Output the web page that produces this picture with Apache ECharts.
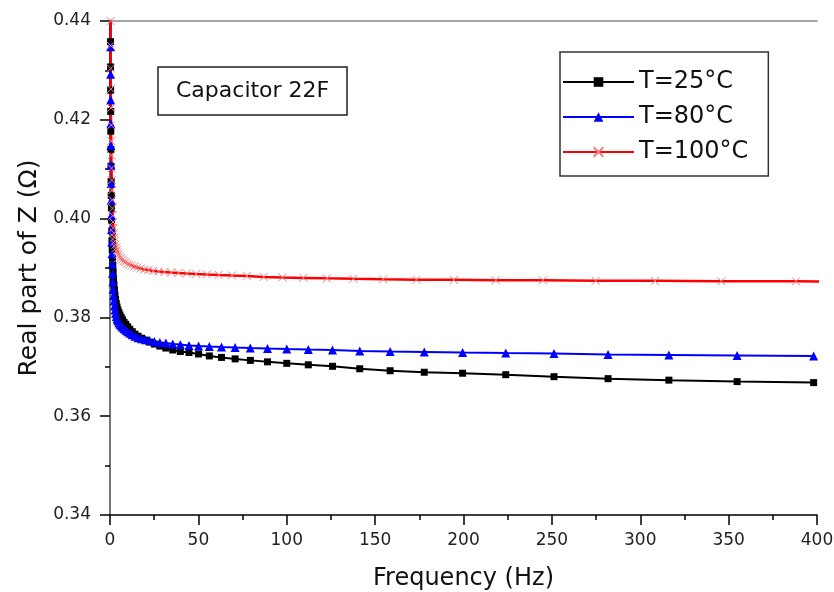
<!DOCTYPE html>
<html>
<head>
<meta charset="utf-8">
<script src="https://cdn.jsdelivr.net/npm/echarts@6/dist/echarts.min.js"></script>
<style>html,body{margin:0;padding:0;background:#fff}#c{width:834px;height:592px}</style>
</head>
<body>
<div id="c"></div>
<script>
// Frequencies (Hz) for T=25°C and T=80°C (shared grid)
const freqBK = [398.1,354.8,316.2,281.8,251.2,223.9,199.5,177.8,158.5,141.3,125.9,112.2,100,89.1,79.4,70.8,63.1,56.2,50.1,44.7,39.8,35.5,31.6,28.2,25.1,22.4,20.0,17.8,15.8,14.1,12.6,11.2,10.0,8.91,7.94,7.08,6.31,5.62,5.01,4.47,3.98,3.55,3.16,2.82,2.51,2.24,2.00,1.78,1.58,1.41,1.26,1.12,1.00,0.891,0.794,0.708,0.631,0.562,0.501,0.447,0.398,0.355,0.316,0.282,0.251,0.224];
// Frequencies (Hz) for T=100°C
const freqR = [435.5,388.1,345.9,308.3,274.8,244.9,218.3,194.5,173.4,154.5,137.7,122.7,109.4,97.5,86.9,77.4,69.0,61.5,54.8,48.8,43.5,38.8,34.6,30.8,27.5,24.5,21.8,19.4,17.3,15.4,13.8,12.3,10.9,9.75,8.69,7.74,6.90,6.15,5.48,4.88,4.35,3.88,3.46,3.08,2.75,2.45,2.18,1.94,1.73,1.55,1.38,1.23,1.09,0.975,0.869,0.774,0.690,0.615,0.548,0.488,0.435,0.388,0.346,0.308,0.275];
const z25 = [0.3668,0.3670,0.3673,0.3676,0.3680,0.3684,0.3687,0.3689,0.3692,0.3696,0.3701,0.3704,0.3707,0.3710,0.3713,0.3716,0.3719,0.3722,0.3726,0.3729,0.3731,0.3734,0.3738,0.3742,0.3746,0.3750,0.3754,0.3758,0.3762,0.3766,0.3771,0.3776,0.3781,0.3786,0.3790,0.3795,0.3800,0.3805,0.3810,0.3815,0.3821,0.3828,0.3836,0.3845,0.3855,0.3866,0.3878,0.3891,0.3905,0.3920,0.3937,0.3955,0.3975,0.3997,0.4021,0.4047,0.4075,0.4106,0.4140,0.4177,0.4217,0.4260,0.4307,0.4358,0.4413,0.4472];
const z80 = [0.3722,0.3723,0.3724,0.3725,0.3727,0.3728,0.3729,0.3730,0.3731,0.3732,0.3734,0.3735,0.3736,0.3737,0.3738,0.3739,0.3740,0.3741,0.3742,0.3743,0.3745,0.3746,0.3748,0.3749,0.3751,0.3753,0.3755,0.3757,0.3759,0.3762,0.3765,0.3768,0.3771,0.3774,0.3777,0.3780,0.3783,0.3786,0.3789,0.3793,0.3797,0.3802,0.3808,0.3815,0.3823,0.3833,0.3844,0.3857,0.3872,0.3889,0.3908,0.3929,0.3952,0.3978,0.4006,0.4037,0.4071,0.4108,0.4148,0.4192,0.4240,0.4292,0.4348,0.4408,0.4472,0.4540];
const z100 = [0.3872,0.3873,0.3873,0.3874,0.3874,0.3875,0.3875,0.3876,0.3876,0.3877,0.3878,0.3879,0.3880,0.3881,0.3882,0.3884,0.3885,0.3886,0.3887,0.3888,0.3889,0.3890,0.3891,0.3892,0.3893,0.3894,0.3896,0.3897,0.3899,0.3901,0.3903,0.3905,0.3907,0.3909,0.3912,0.3914,0.3917,0.3920,0.3923,0.3927,0.3931,0.3936,0.3941,0.3947,0.3954,0.3962,0.3971,0.3981,0.3993,0.4006,0.4021,0.4038,0.4057,0.4078,0.4102,0.4128,0.4157,0.4189,0.4224,0.4262,0.4304,0.4350,0.4400,0.4455,0.4515];
const seriesNames = ['T=25°C','T=80°C','T=100°C'];

function pairs(xs, ys){ return xs.map((x,i)=>[x, ys[i]]); }

const FONT = 'DejaVu Sans';
const chart = echarts.init(document.getElementById('c'), null, {renderer:'canvas'});
chart.setOption({
  animation:false,
  backgroundColor:'#fff',
  textStyle:{fontFamily:FONT},
  title:{
    text:'Capacitor 22F', left:158, top:67,
    padding:[13,18,13,18],
    borderColor:'#222', borderWidth:1.5,
    textStyle:{fontFamily:FONT, fontSize:22, fontWeight:'normal', color:'#111', lineHeight:22}
  },
  legend:{
    left:560, top:52, orient:'vertical',
    padding:[18,20,12,2],
    borderColor:'#333', borderWidth:1.5,
    itemWidth:71, itemHeight:12, itemGap:11,
    textStyle:{fontFamily:FONT, fontSize:24, color:'#111', lineHeight:24},
    data:seriesNames
  },
  grid:{left:110, top:21, width:707, height:494, containLabel:false, outerBoundsMode:'none'},
  xAxis:[{
    type:'value', min:0, max:400, interval:50,
    name:'Frequency (Hz)', nameLocation:'middle', nameGap:52,
    nameTextStyle:{fontFamily:FONT, fontSize:24, color:'#111'},
    axisLine:{lineStyle:{color:'#000', width:1.5}},
    axisTick:{show:true, inside:false, length:10, lineStyle:{color:'#000', width:1.5}},
    minorTick:{show:true, splitNumber:2, length:5, lineStyle:{color:'#000', width:1.5}},
    axisLabel:{fontFamily:FONT, fontSize:17, color:'#222', margin:17},
    splitLine:{show:false}
  },{
    type:'value', position:'top', min:0, max:400, interval:50,
    axisLine:{show:true, lineStyle:{color:'#888', width:1.5}},
    axisTick:{show:false}, axisLabel:{show:false}, splitLine:{show:false}
  }],
  yAxis:[{
    type:'value', min:0.34, max:0.44, interval:0.02,
    name:'Real part of Z (Ω)', nameLocation:'middle', nameGap:66, nameRotate:90,
    nameTextStyle:{fontFamily:FONT, fontSize:25, color:'#111'},
    axisLine:{show:true, lineStyle:{color:'#000', width:1.5}},
    axisTick:{show:true, inside:false, length:10, lineStyle:{color:'#000', width:1.5}},
    minorTick:{show:true, splitNumber:2, length:5, lineStyle:{color:'#000', width:1.5}},
    axisLabel:{fontFamily:FONT, fontSize:17, color:'#222', margin:19, formatter:v=>v.toFixed(2)},
    splitLine:{show:false}
  },{
    type:'value', position:'right', min:0.34, max:0.44, interval:0.02,
    axisLine:{show:true, lineStyle:{color:'#888', width:1.5}},
    axisTick:{show:false}, axisLabel:{show:false}, splitLine:{show:false}
  }],
  series:[
    {
      name:seriesNames[0], type:'line', data:pairs(freqBK, z25),
      symbol:'rect', symbolSize:7, showAllSymbol:true, clip:true,
      lineStyle:{color:'#000', width:2},
      itemStyle:{color:'#000'}
    },
    {
      name:seriesNames[1], type:'line', data:pairs(freqBK, z80),
      symbol:'triangle', symbolSize:9, showAllSymbol:true, clip:true,
      lineStyle:{color:'#0000ff', width:2},
      itemStyle:{color:'#0000ff'}
    },
    {
      name:seriesNames[2], type:'line', data:pairs(freqR, z100),
      symbol:'path://M0,0L10,10M10,0L0,10', symbolSize:8, showAllSymbol:true, clip:true,
      lineStyle:{color:'#ff0000', width:2.5},
      itemStyle:{color:'rgba(0,0,0,0)', borderColor:'#f08080', borderWidth:1}
    }
  ]
});
</script>
</body>
</html>
